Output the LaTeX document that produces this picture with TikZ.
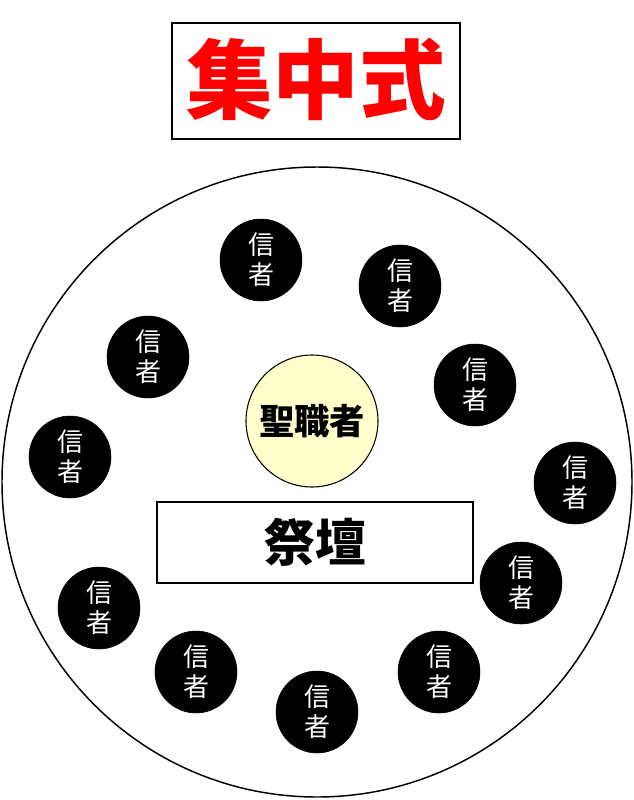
\documentclass[tikz,border=0pt]{standalone}
\usepackage{fontspec}
\usepackage{tikz}
\usetikzlibrary{positioning}
\newfontfamily\jpfont{Noto Sans CJK JP}
\definecolor{priestyellow}{rgb}{1.0,1.0,0.8}
\definecolor{titlered}{rgb}{1.0,0.0,0.0}
\tikzstyle{titlebox}=[%
      rectangle, draw=black, line width=1pt, fill=white, inner sep=0pt,
      minimum width=288*0.75pt, minimum height=116*0.75pt,
      text=titlered, font=\jpfont\bfseries\fontsize{65}{70}\selectfont
]
\tikzstyle{hall}=[%
      circle, draw=black, line width=1.1pt, fill=none, inner sep=0pt,
      minimum size=630*0.75pt
]
\tikzstyle{priest}=[%
      circle, draw=black, line width=0.8pt, fill=priestyellow, inner sep=0pt,
      minimum size=132*0.75pt, font=\jpfont\bfseries\fontsize{26.5}{30}\selectfont
]
\tikzstyle{altar}=[%
      rectangle, draw=black, line width=0.8pt, fill=white, inner sep=0pt,
      minimum width=316*0.75pt, minimum height=81*0.75pt,
      font=\jpfont\bfseries\fontsize{38}{42}\selectfont
]
\tikzstyle{believer}=[%
      circle, draw=black, fill=black, inner sep=0pt, text=white, align=center,
      minimum size=82*0.75pt, font=\jpfont\fontsize{19.5}{22.5}\selectfont
]

\begin{document}
\begin{tikzpicture}[x=0.75pt, y=-0.75pt]
    \useasboundingbox[fill=white] (0,0) rectangle (633,800);

    \node[titlebox] (title) at (316,81) {\raisebox{8pt}{集中式}};

    \node[hall]   (church) at (317,482) {};
    \node[priest] (cleric) at (312,421) {聖職者};
    \node[altar]  (saidan) at (315,542.5) {祭壇};

    % believers around the altar
    \foreach \name/\pos in {b1/{(261,260)}, b2/{(400,286)}, b3/{(148,357)},
                            b4/{(475,385)}, b5/{(70,457)}, b6/{(575,483)},
                            b7/{(521,583)}, b8/{(99,608)}, b9/{(196,672)},
                            b10/{(439,672)}, b11/{(317,712)}}
      \node[believer] (\name) at \pos {信\\者};

  \end{tikzpicture}
\end{document}
